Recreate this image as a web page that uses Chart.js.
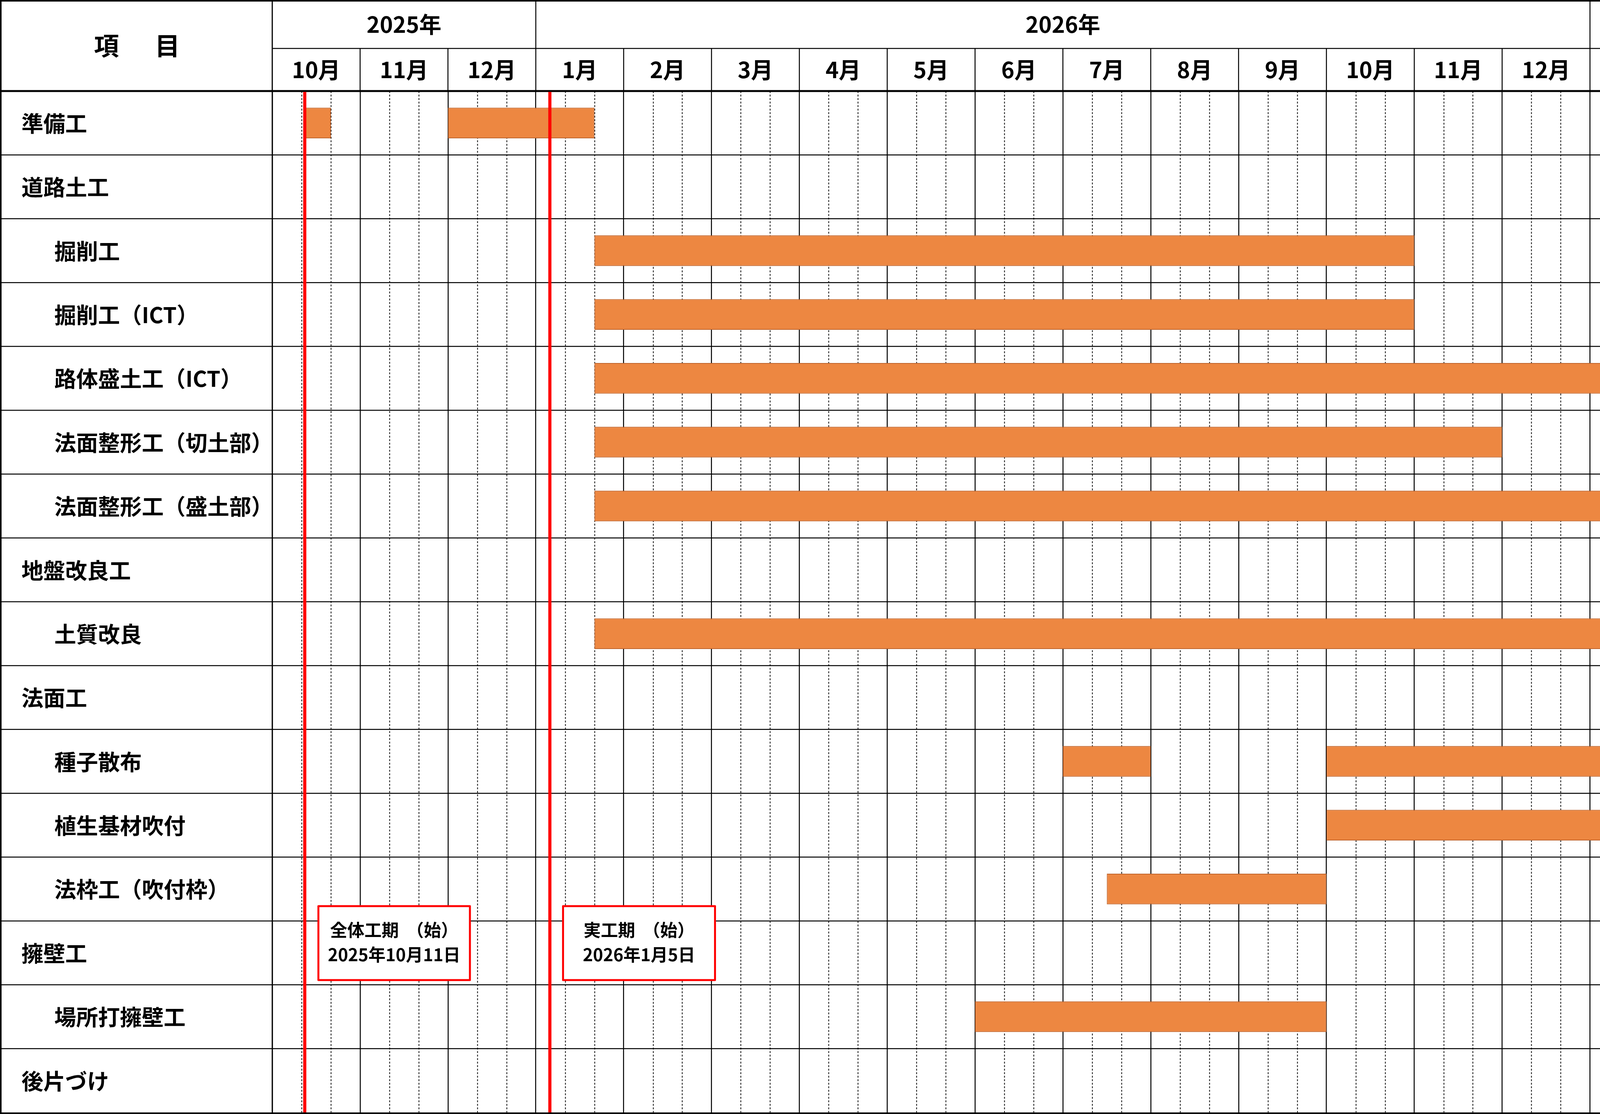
<!DOCTYPE html>
<html lang="ja">
<head>
<meta charset="utf-8">
<title>工程表</title>
<script src="https://cdn.jsdelivr.net/npm/chart.js@4.4.1/dist/chart.umd.min.js"></script>
<style>
  html, body { margin: 0; padding: 0; background: #fff; overflow: hidden; }
  #gantt { display: block; width: 100vw; height: 100vh; }
</style>
</head>
<body>
<canvas id="gantt" width="4749" height="2851"></canvas>
<script>
// 工程データ（単位：月、0 = 2025年10月1日）
const tasks = ['準備工', '道路土工', '掘削工', '掘削工（ICT）', '路体盛土工（ICT）',
  '法面整形工（切土部）', '法面整形工（盛土部）', '地盤改良工', '土質改良', '法面工',
  '種子散布', '植生基材吹付', '法枠工（吹付枠）', '擁壁工', '場所打擁壁工', '後片づけ'];
const indent = [0, 0, 1, 1, 1, 1, 1, 0, 1, 0, 1, 1, 1, 0, 1, 0];

const phase1Start = [0.36, null, 3.667, 3.667, 3.667, 3.667, 3.667, null, 3.667, null, 9, 12, 9.5, null, 8, 17];
const phase1End   = [0.667, null, 13, 13, 17, 14, 17, null, 17, null, 10, 17, 12, null, 12, 18];
const phase2Start = [2, null, null, null, null, null, null, null, null, null, 12, null, null, null, null, null];
const phase2End   = [3.667, null, null, null, null, null, null, null, null, null, 17, null, null, null, null, null];

const months = ['10月', '11月', '12月', '1月', '2月', '3月', '4月', '5月', '6月',
  '7月', '8月', '9月', '10月', '11月', '12月', '1月', '2月', '3月'];
const years = ['2025年', '2026年', '2027年'];
const yearSpans = [3, 12, 3];

// 工期の区切り線
const markers = [0.37, 3.16, 17.97];
const markerTitles = ['全体工期  （始）', '実工期  （始）', '工期  （終）'];
const markerDates = ['2025年10月11日', '2026年1月5日', '2027年3月31日'];

// 注記ボックスの横位置（月）
const noteFrom = [0.525, 3.31, 16.19];
const noteTo = [2.25, 5.04, 17.92];

const FONT = '"Noto Sans CJK JP", "Noto Sans", sans-serif';
const HEAD_MID = 124;

function toRange(s, e) {
  return s.map((v, i) => v == null ? null : [v, e[i]]);
}

function line(ctx, x1, y1, x2, y2) {
  ctx.beginPath();
  ctx.moveTo(x1, y1);
  ctx.lineTo(x2, y2);
  ctx.stroke();
}

const ganttFrame = {
  id: 'ganttFrame',
  beforeDraw(chart) {
    const ctx = chart.ctx;
    ctx.save();
    ctx.fillStyle = '#fff';
    ctx.fillRect(0, 0, chart.width, chart.height);
    ctx.restore();
  },
  beforeDatasetsDraw(chart) {
    const {ctx, chartArea: a, scales: {x, y}} = chart;
    const band = (y.bottom - y.top) / tasks.length;
    ctx.save();

    // 旬の点線
    ctx.strokeStyle = '#111';
    ctx.lineWidth = 2;
    ctx.setLineDash([5, 4]);
    for (let m = 0; m < months.length; m++) {
      [1 / 3, 2 / 3].forEach(f => {
        const px = Math.round(x.getPixelForValue(m + f)) + 0.5;
        line(ctx, px, a.top, px, a.bottom);
      });
    }
    ctx.setLineDash([]);

    // 行の罫線
    ctx.strokeStyle = '#000';
    ctx.lineWidth = 2.5;
    for (let i = 1; i < tasks.length; i++) {
      const py = y.top + i * band;
      line(ctx, 0, py, chart.width, py);
    }

    // ヘッダー
    line(ctx, a.left, HEAD_MID, chart.width, HEAD_MID);
    let from = 0;
    ctx.fillStyle = '#000';
    ctx.textAlign = 'center';
    ctx.textBaseline = 'middle';
    ctx.font = 'bold 57px ' + FONT;
    years.forEach((yr, i) => {
      const x1 = x.getPixelForValue(from), x2 = x.getPixelForValue(from + yearSpans[i]);
      ctx.fillText(yr, (x1 + x2) / 2, HEAD_MID / 2);
      if (i > 0) line(ctx, x1, 0, x1, HEAD_MID);
      from += yearSpans[i];
    });
    months.forEach((mo, m) => {
      const x1 = x.getPixelForValue(m);
      if (m > 0) line(ctx, x1, HEAD_MID, x1, a.top);
      ctx.fillText(mo, x.getPixelForValue(m + 0.5), (HEAD_MID + a.top) / 2);
    });
    ctx.font = 'bold 64px ' + FONT;
    ctx.fillText('項', a.left / 2 - 76, a.top / 2);
    ctx.fillText('目', a.left / 2 + 80, a.top / 2);

    // 項目名
    ctx.textAlign = 'left';
    ctx.font = 'bold 56px ' + FONT;
    tasks.forEach((t, i) => {
      ctx.fillText(t, indent[i] ? 139 : 55, y.getPixelForValue(i) + 1);
    });

    // 外枠・太線
    ctx.lineWidth = 3;
    line(ctx, a.left, 0, a.left, chart.height);
    ctx.lineWidth = 5;
    line(ctx, 0, a.top, chart.width, a.top);
    ctx.lineWidth = 8;
    ctx.strokeRect(0, 0, chart.width, chart.height);
    ctx.restore();
  },
  afterDatasetsDraw(chart) {
    const {ctx, chartArea: a, scales: {x, y}} = chart;
    const band = (y.bottom - y.top) / tasks.length;
    ctx.save();
    ctx.strokeStyle = '#ff0000';
    ctx.lineWidth = 8;
    markers.forEach(v => {
      const px = x.getPixelForValue(v);
      line(ctx, px, a.top + 2, px, a.bottom);
    });

    const rowTop = y.top + tasks.indexOf('擁壁工') * band;
    const top = rowTop - 38, bottom = rowTop + band - 12;
    ctx.lineWidth = 5;
    ctx.lineJoin = 'round';
    ctx.textAlign = 'center';
    ctx.textBaseline = 'middle';
    ctx.font = 'bold 44px ' + FONT;
    markers.forEach((v, i) => {
      const x1 = x.getPixelForValue(noteFrom[i]), x2 = x.getPixelForValue(noteTo[i]);
      ctx.fillStyle = '#fff';
      ctx.fillRect(x1, top, x2 - x1, bottom - top);
      ctx.strokeRect(x1, top, x2 - x1, bottom - top);
      ctx.fillStyle = '#000';
      ctx.fillText(markerTitles[i], (x1 + x2) / 2, top + 61);
      ctx.fillText(markerDates[i], (x1 + x2) / 2, top + 124);
    });
    ctx.restore();
  }
};

const barStyle = {
  backgroundColor: '#ED8741',
  borderColor: '#C0642C',
  borderWidth: 2,
  borderSkipped: false,
  barPercentage: 0.48,
  categoryPercentage: 1,
  grouped: false
};

new Chart(document.getElementById('gantt'), {
  type: 'bar',
  data: {
    labels: tasks,
    datasets: [
      Object.assign({label: '工程1', data: toRange(phase1Start, phase1End)}, barStyle),
      Object.assign({label: '工程2', data: toRange(phase2Start, phase2End)}, barStyle)
    ]
  },
  options: {
    indexAxis: 'y',
    responsive: false,
    devicePixelRatio: 1,
    animation: false,
    layout: {padding: {top: 233, right: 4, bottom: 4, left: 0}},
    plugins: {legend: {display: false}, tooltip: {enabled: false}},
    scales: {
      x: {
        type: 'linear', min: 0, max: 18,
        ticks: {display: false, stepSize: 1},
        grid: {color: '#000', lineWidth: 2.5, drawTicks: false},
        border: {display: false}
      },
      y: {
        ticks: {display: false},
        grid: {display: false},
        border: {display: false},
        afterFit(s) { s.width = 697; }
      }
    }
  },
  plugins: [ganttFrame]
});
</script>
</body>
</html>
